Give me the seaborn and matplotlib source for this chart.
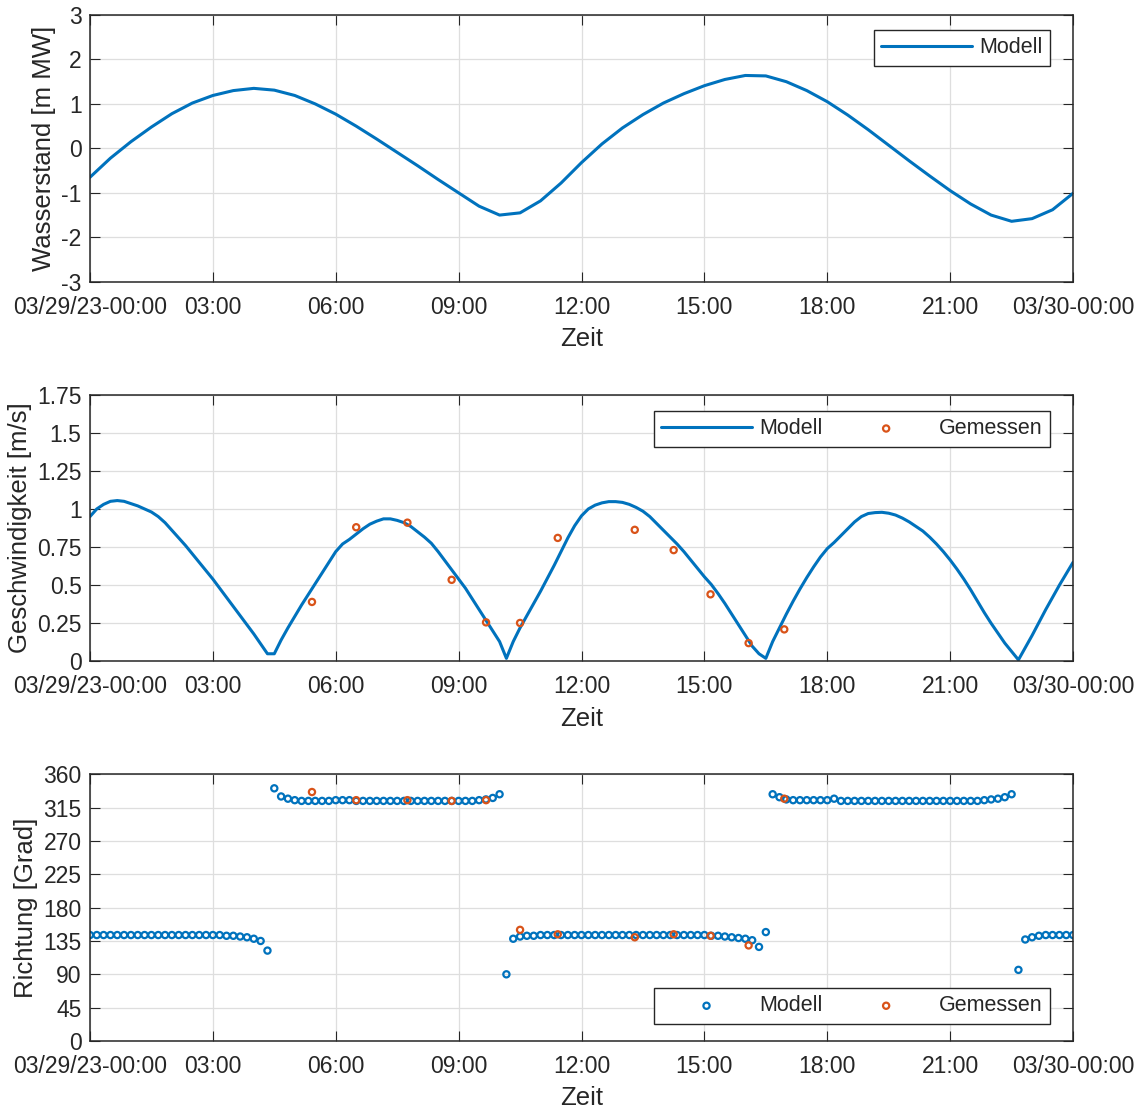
import numpy as np
import seaborn as sns
import matplotlib.pyplot as plt

# Zeit in Stunden ab 29.03.2023 00:00
zeit_30min = np.arange(49) / 2
zeit_10min = np.arange(145) / 6

# Wasserstand Modell [m MW], 30-min Werte
wasserstand = [-0.65, -0.22, 0.15, 0.48, 0.78, 1.02, 1.19, 1.30, 1.35, 1.31,
               1.19, 1.00, 0.77, 0.50, 0.21, -0.09, -0.39, -0.70, -1.00, -1.30,
               -1.50, -1.45, -1.18, -0.78, -0.32, 0.10, 0.46, 0.76, 1.02, 1.23,
               1.41, 1.55, 1.64, 1.63, 1.50, 1.30, 1.05, 0.75, 0.42, 0.07,
               -0.28, -0.62, -0.95, -1.25, -1.50, -1.64, -1.58, -1.38, -1.01]

# Geschwindigkeit Modell [m/s], 10-min Werte (je Zeile eine Stunde)
geschw_modell = [0.95, 1.00, 1.03, 1.05, 1.055, 1.05,
                 1.035, 1.02, 1.00, 0.98, 0.95, 0.91,
                 0.86, 0.81, 0.76, 0.705, 0.65, 0.595,
                 0.54, 0.48, 0.42, 0.36, 0.30, 0.24,
                 0.18, 0.115, 0.05, 0.05, 0.14, 0.22,
                 0.295, 0.37, 0.44, 0.51, 0.58, 0.65,
                 0.72, 0.77, 0.80, 0.835, 0.87, 0.90,
                 0.92, 0.935, 0.935, 0.925, 0.91, 0.885,
                 0.85, 0.815, 0.775, 0.72, 0.66, 0.60,
                 0.54, 0.48, 0.41, 0.34, 0.27, 0.20,
                 0.13, 0.02, 0.13, 0.22, 0.30, 0.38,
                 0.46, 0.545, 0.63, 0.72, 0.81, 0.89,
                 0.955, 1.00, 1.025, 1.04, 1.048, 1.048,
                 1.043, 1.03, 1.01, 0.985, 0.95, 0.905,
                 0.86, 0.815, 0.77, 0.72, 0.665, 0.61,
                 0.555, 0.505, 0.445, 0.38, 0.31, 0.24,
                 0.17, 0.10, 0.05, 0.02, 0.13, 0.22,
                 0.31, 0.395, 0.475, 0.55, 0.62, 0.685,
                 0.74, 0.78, 0.825, 0.87, 0.915, 0.95,
                 0.97, 0.976, 0.978, 0.972, 0.96, 0.94,
                 0.915, 0.885, 0.855, 0.815, 0.77, 0.72,
                 0.665, 0.605, 0.54, 0.47, 0.395, 0.32,
                 0.25, 0.185, 0.12, 0.065, 0.01, 0.09,
                 0.17, 0.255, 0.34, 0.42, 0.50, 0.575,
                 0.65]

# Richtung Modell [Grad], 10-min Werte (je Zeile eine Stunde)
richtung_modell = [143, 143, 143, 143, 143, 143,
                   143, 143, 143, 143, 143, 143,
                   143, 143, 143, 143, 143, 143,
                   143, 143, 142, 142, 141, 140,
                   138, 135, 122, 341, 330, 327,
                   325, 324, 324, 324, 324, 324,
                   325, 325, 325, 324, 324, 324,
                   324, 324, 324, 324, 324, 324,
                   324, 324, 324, 324, 324, 324,
                   324, 324, 324, 325, 326, 328,
                   333, 90, 138, 141, 142, 142,
                   143, 143, 143, 143, 143, 143,
                   143, 143, 143, 143, 143, 143,
                   143, 143, 143, 143, 143, 143,
                   143, 143, 143, 143, 143, 143,
                   143, 142, 142, 141, 140, 139,
                   138, 136, 127, 147, 333, 329,
                   326, 325, 325, 325, 325, 325,
                   325, 327, 324, 324, 324, 324,
                   324, 324, 324, 324, 324, 324,
                   324, 324, 324, 324, 324, 324,
                   324, 324, 324, 324, 324, 325,
                   326, 327, 329, 333, 96, 137,
                   140, 142, 143, 143, 143, 143,
                   143]

# Messungen
zeit_mess = [5.42, 6.5, 7.75, 8.83, 9.67, 10.5, 11.42, 13.3, 14.25, 15.15, 16.08, 16.95]
geschw_mess = [0.39, 0.88, 0.91, 0.535, 0.256, 0.252, 0.81, 0.863, 0.73, 0.44, 0.12, 0.21]
richtung_mess = [336, 325, 325, 324, 325, 150, 144, 140, 144, 142, 129, 327]

# Achsenbeschriftung
x_ticks = [0, 3, 6, 9, 12, 15, 18, 21, 24]
x_labels = ["03/29/23-00:00", "03:00", "06:00", "09:00", "12:00",
            "15:00", "18:00", "21:00", "03/30-00:00"]
y_ticks_wasser = [-3, -2, -1, 0, 1, 2, 3]
y_ticks_geschw = [0, 0.25, 0.5, 0.75, 1, 1.25, 1.5, 1.75]
y_ticks_richtung = [0, 45, 90, 135, 180, 225, 270, 315, 360]

sns.set_style("ticks")
plt.rcParams["font.family"] = ["Liberation Sans", "DejaVu Sans"]
plt.rcParams["axes.unicode_minus"] = False

blau = "#0072BD"
orange = "#D95319"
dunkel = "#262626"

fig, axes = plt.subplots(3, 1, figsize=(11.43, 11.11), dpi=100)
fig.subplots_adjust(left=0.0787, right=0.9388, top=0.9865, bottom=0.063, hspace=0.423)


def style_axis(ax, yticks, ylabel):
    ax.set_xlim(0, 24)
    ax.set_xticks(x_ticks)
    ax.set_xticklabels(x_labels)
    ax.set_ylim(yticks[0], yticks[-1])
    ax.set_yticks(yticks)
    ax.set_yticklabels([f"{v:g}" for v in yticks])
    ax.grid(True, color="#dedede", lw=0.9)
    ax.set_axisbelow(True)
    ax.tick_params(direction="in", length=7, width=0.8, top=True, right=True,
                   labelsize=16.5, colors=dunkel, pad=6)
    ax.tick_params(axis="x", pad=10)
    for s in ax.spines.values():
        s.set_visible(True)
        s.set_color(dunkel)
        s.set_linewidth(1.1)
    ax.set_xlabel("Zeit", fontsize=18.5, color=dunkel, labelpad=6)
    ax.set_ylabel(ylabel, fontsize=18.5, color=dunkel, labelpad=4)


def legende(ax, loc, anchor, ncol):
    leg = ax.legend(loc=loc, bbox_to_anchor=anchor, ncol=ncol, fontsize=15.5,
                    handlelength=4.2, handletextpad=0.35, columnspacing=0.85,
                    borderpad=0.35, borderaxespad=0, fancybox=False,
                    framealpha=1, edgecolor=dunkel, scatterpoints=1)
    leg.get_frame().set_linewidth(1.0)


pkt = dict(marker="o", s=20, facecolors="none", linewidth=1.6)

# Wasserstand
ax = axes[0]
sns.lineplot(x=zeit_30min, y=wasserstand, ax=ax, color=blau, lw=2.2, label="Modell")
style_axis(ax, y_ticks_wasser, "Wasserstand [m MW]")
legende(ax, "upper right", (0.9766, 0.944), 1)

# Geschwindigkeit
ax = axes[1]
sns.lineplot(x=zeit_10min, y=geschw_modell, ax=ax, color=blau, lw=2.2, label="Modell")
sns.scatterplot(x=zeit_mess, y=geschw_mess, ax=ax, color=orange, edgecolor=orange,
                label="Gemessen", zorder=3, **pkt)
style_axis(ax, y_ticks_geschw, "Geschwindigkeit [m/s]")
legende(ax, "upper right", (0.9766, 0.940), 2)

# Richtung
ax = axes[2]
sns.scatterplot(x=zeit_10min, y=richtung_modell, ax=ax, color=blau, edgecolor=blau,
                label="Modell", zorder=2, **pkt)
sns.scatterplot(x=zeit_mess, y=richtung_mess, ax=ax, color=orange, edgecolor=orange,
                label="Gemessen", zorder=3, **pkt)
style_axis(ax, y_ticks_richtung, "Richtung [Grad]")
legende(ax, "lower right", (0.9766, 0.064), 2)

fig.savefig("out.png", dpi=100)
